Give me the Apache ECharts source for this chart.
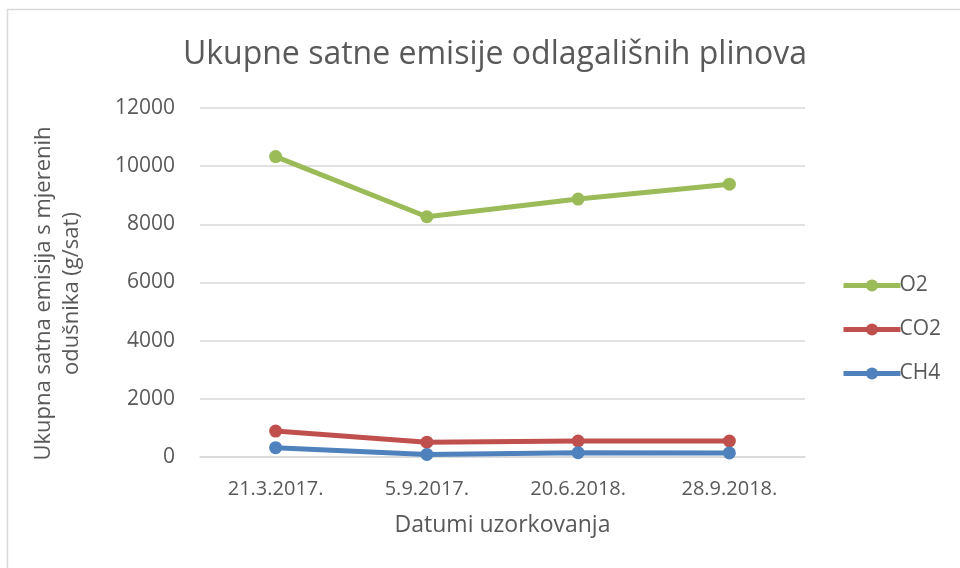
<!DOCTYPE html>
<html>
<head>
<meta charset="utf-8">
<script src="https://cdn.jsdelivr.net/npm/echarts@6/dist/echarts.min.js"></script>
<style>
  html, body { margin: 0; padding: 0; background: #fff; }
  #chart { width: 960px; height: 568px; }
</style>
</head>
<body>
<div id="chart"></div>
<script>
  // datumi uzorkovanja
  let dates = ['21.3.2017.', '5.9.2017.', '20.6.2018.', '28.9.2018.'];
  let o2 = [10330, 8260, 8870, 9380];
  let co2 = [890, 510, 550, 550];
  let ch4 = [320, 90, 150, 140];

  let font = 'Open Sans, Liberation Sans, sans-serif';
  let grey = '#595959';

  var myChart = echarts.init(document.getElementById('chart'));
  let mkSeries = (name, data, color) => ({
    name: name,
    type: 'line',
    data: data,
    symbol: 'circle',
    symbolSize: 13,
    lineStyle: { width: 5, color: color },
    itemStyle: { color: color },
    emphasis: { disabled: true }
  });
  let option = {
    animation: false,
    textStyle: { fontFamily: font },
    graphic: [{
      type: 'rect',
      shape: { x: 7.5, y: 9.5, width: 1000, height: 600 },
      style: { fill: 'none', stroke: '#d9d9d9', lineWidth: 1.5 },
      silent: true
    }],
    title: {
      text: 'Ukupne satne emisije odlagališnih plinova',
      left: 490,
      textAlign: 'center',
      top: 34,
      textStyle: { fontFamily: font, fontSize: 32, fontWeight: 'normal', color: grey }
    },
    legend: {
      orient: 'vertical',
      left: 836,
      top: 270,
      itemWidth: 57,
      itemHeight: 15,
      itemGap: 23,
      data: ['O2', 'CO2', 'CH4'],
      lineStyle: { width: 5 },
      textStyle: { fontFamily: font, fontSize: 21, color: grey, padding: [0, 0, 0, -6] }
    },
    grid: { left: 200, right: 155, top: 108, bottom: 111, containLabel: false },
    xAxis: {
      type: 'category',
      data: dates,
      boundaryGap: true,
      axisLine: { lineStyle: { color: '#d9d9d9', width: 1.5 } },
      axisTick: { show: false },
      axisLabel: { fontSize: 20, color: grey, margin: 22 },
      name: 'Datumi uzorkovanja',
      nameLocation: 'middle',
      nameGap: 57,
      nameTextStyle: { fontSize: 23, color: grey }
    },
    yAxis: {
      type: 'value',
      min: 0,
      max: 12000,
      interval: 2000,
      axisLine: { show: false },
      axisTick: { show: false },
      axisLabel: { fontSize: 21, color: grey, margin: 25, formatter: (v) => String(v) },
      splitLine: { lineStyle: { color: '#d9d9d9', width: 1.5 } },
      name: 'Ukupna satna emisija s mjerenih\nodušnika (g/sat)',
      nameLocation: 'middle',
      nameGap: 114,
      nameTextStyle: { fontSize: 22, color: grey, lineHeight: 28, padding: [0, 22, 0, 0] }
    },
    series: [
      mkSeries('O2', o2, '#9bbb59'),
      mkSeries('CO2', co2, '#c0504d'),
      mkSeries('CH4', ch4, '#4f81bd')
    ]
  };
  myChart.setOption(option);
</script>
</body>
</html>
